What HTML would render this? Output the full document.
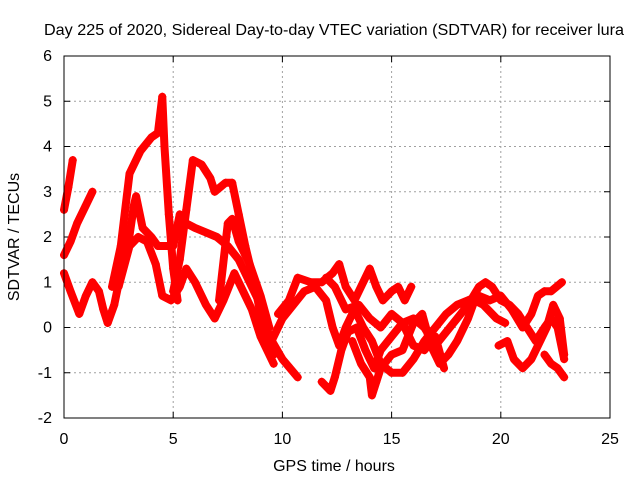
<!DOCTYPE html>
<html><head><meta charset="utf-8"><style>
html,body{margin:0;padding:0;background:#fff;}
svg text{font-family:"Liberation Sans",sans-serif;font-size:16px;fill:#000;}
</style></head><body>
<svg id="chart" width="640" height="480" xmlns="http://www.w3.org/2000/svg">
<text x="334" y="35" text-anchor="middle" textLength="580" lengthAdjust="spacingAndGlyphs">Day 225 of 2020, Sidereal Day-to-day VTEC variation (SDTVAR) for receiver lura</text>
<text x="334" y="471" text-anchor="middle">GPS time / hours</text>
<text transform="translate(19,237) rotate(-90)" text-anchor="middle">SDTVAR / TECUs</text>
<g id="grid"></g>
<g id="ticks"></g>
<g id="marks"></g>
<rect x="64" y="56" width="546" height="362" fill="none" stroke="#000" stroke-width="1"/>
</svg>
<script>
const xTicks = [0,5,10,15,20,25];
const yTicks = [-2,-1,0,1,2,3,4,5,6];
const track1 = [[0,2.6],[0.2,3.1],[0.4,3.7]];
const track2 = [[0,1.6],[0.3,1.9],[0.6,2.3],[1.0,2.7],[1.3,3.0]];
const track3 = [[0,1.2],[0.3,0.8],[0.7,0.3],[1.0,0.7],[1.3,1.0],[1.6,0.8],[1.8,0.4],[2.0,0.1],[2.3,0.5],[2.6,1.2],[2.9,1.7],[3.2,2.7],[3.3,2.9],[3.6,2.2],[4.0,2.0],[4.3,1.8],[4.6,1.8],[5.0,1.8],[5.3,2.5],[5.6,2.3],[6.0,2.2],[6.5,2.1],[7.0,2.0],[7.5,1.8],[8.0,1.5],[8.5,1.0],[9.0,0.5],[9.4,-0.2],[10.0,-0.7],[10.7,-1.1]];
const track4 = [[2.2,0.9],[2.6,1.8],[3.0,3.4],[3.5,3.9],[4.0,4.2],[4.3,4.3],[4.5,5.1],[4.6,4.0],[4.8,2.5],[5.0,1.3],[5.2,0.6]];
const track5 = [[5.0,0.8],[5.3,1.5],[5.6,2.6],[5.9,3.7],[6.3,3.6],[6.7,3.3],[6.9,3.0],[7.4,3.2],[7.7,3.2],[8.0,2.5],[8.3,1.8],[8.7,1.0],[9.0,0.3],[9.3,-0.3],[9.6,-0.6]];
const track6 = [[2.5,0.9],[3.0,1.8],[3.4,2.0],[3.8,1.9],[4.2,1.4],[4.5,0.7],[4.9,0.6],[5.3,0.9],[5.6,1.3],[6.0,1.0],[6.5,0.5],[6.9,0.2],[7.3,0.6],[7.8,1.2],[8.2,0.8],[8.6,0.4],[9.0,-0.2],[9.3,-0.5],[9.6,-0.8]];
const track7 = [[7.1,0.6],[7.5,2.3],[7.7,2.4],[8.0,1.9],[8.5,1.4],[9.0,0.7],[9.4,0.0]];
const track8 = [[9.8,0.3],[10.3,0.6],[10.7,1.1],[11.3,1.0],[11.8,1.0],[12.3,1.2],[12.6,1.4],[12.9,0.9],[13.3,0.6],[13.6,0.9],[14.0,1.3],[14.3,0.9],[14.6,0.6],[15.0,0.8],[15.3,0.9],[15.6,0.6],[15.9,0.9]];
const track9 = [[9.5,-0.3],[10.0,0.2],[10.5,0.5],[11.0,0.8],[11.5,0.9],[12.0,0.6],[12.3,0.0],[12.6,-0.4],[12.9,0.0],[13.3,0.4],[13.7,0.0],[14.1,-0.3],[14.5,-0.8],[15.0,-1.0],[15.5,-1.0],[16.0,-0.7],[16.5,-0.3],[17.0,0.0],[17.5,0.3],[18.0,0.5],[18.5,0.6],[19.0,0.7],[19.5,0.6],[20.0,0.7],[20.5,0.4],[21.0,0.0],[21.4,0.3],[21.7,0.7],[22.0,0.8],[22.3,0.8],[22.8,1.0]];
const track10 = [[11.8,-1.2],[12.0,-1.3],[12.2,-1.4],[12.4,-1.1],[12.7,-0.5],[13.0,-0.1],[13.4,0.0],[13.8,-0.5],[14.2,-0.9],[14.5,-0.5],[15.0,-0.2],[15.5,0.1],[16.0,0.2],[16.5,0.0],[17.0,-0.4],[17.5,-0.1],[18.0,0.2],[18.5,0.5],[19.0,0.9],[19.3,1.0],[19.6,0.9],[20.0,0.6],[20.4,0.5],[20.8,0.3],[21.2,0.0],[21.6,-0.3],[22.0,0.0],[22.3,0.2],[22.6,0.0],[22.9,-0.7]];
const track11 = [[13.2,-0.3],[13.6,-0.8],[14.0,-1.1],[14.1,-1.5],[14.3,-1.2],[14.5,-0.9],[15.0,-0.6],[15.5,-0.5],[16.0,0.1],[16.4,0.3],[16.8,-0.4],[17.2,-0.8],[17.6,-0.6],[18.0,-0.3],[18.5,0.2],[18.8,0.6],[19.2,0.5],[19.8,0.2],[20.2,0.1]];
const track12 = [[19.9,-0.4],[20.3,-0.3],[20.6,-0.7],[21.0,-0.9],[21.4,-0.7],[21.8,-0.3],[22.1,0.0],[22.4,0.5],[22.7,0.2],[22.9,-0.6]];
const track13 = [[22.0,-0.6],[22.3,-0.8],[22.6,-0.9],[22.9,-1.1]];
const track14 = [[12.0,1.1],[12.4,0.9],[12.9,0.4],[13.5,0.5],[14.0,0.2],[14.5,0.0],[15.0,0.3],[15.5,0.1],[16.0,-0.4],[16.5,-0.5],[17.0,-0.2],[17.4,-0.9]];
const tracks = [track1,track2,track3,track4,track5,track6,track7,track8,track9,track10,track11,track12,track13,track14];

const NS="http://www.w3.org/2000/svg";
const X0=64,X1=610,Y0=418,Y1=56;
function xs(v){return X0+(v-0)/(25-0)*(X1-X0);}
function ys(v){return Y0-(v-(-2))/(6-(-2))*(Y0-Y1);}
const grid=document.getElementById('grid'),ticks=document.getElementById('ticks'),marks=document.getElementById('marks');
function mk(tag,attrs,parent){const e=document.createElementNS(NS,tag);for(const k in attrs)e.setAttribute(k,attrs[k]);parent.appendChild(e);return e;}
xTicks.forEach(t=>{
  const x=xs(t);
  if(t>0&&t<25){const g=mk('line',{x1:x,x2:x,y1:Y1,y2:Y0,stroke:'#a0a0a0','stroke-dasharray':'2,3'},grid);
  
  }
  const tk=mk('path',{d:`M${x},${Y0}v-6M${x},${Y1}v6`,stroke:'#000'},ticks);
  
  
  const l=mk('text',{x:x,y:444,'text-anchor':'middle'},ticks);l.textContent=t;
  
  
});
yTicks.forEach(t=>{
  const y=ys(t);
  if(t>-2&&t<6){const g=mk('line',{x1:X0,x2:X1,y1:y,y2:y,stroke:'#a0a0a0','stroke-dasharray':'2,3'},grid);
  
  }
  const tk=mk('path',{d:`M${X0},${y}h6M${X1},${y}h-6`,stroke:'#000'},ticks);
  
  
  const l=mk('text',{x:52,y:y+5,'text-anchor':'end'},ticks);l.textContent=t;
  
  
});
tracks.forEach((tr,i)=>{
  const pts=tr.map(p=>xs(p[0])+','+ys(p[1])).join(' ');
  const pl=mk('polyline',{points:pts,fill:'none',stroke:'#ff0000','stroke-width':8,'stroke-linejoin':'round','stroke-linecap':'round'},marks);
  
  
  tr.forEach(p=>{
    const x=xs(p[0]),y=ys(p[1]);
    const m=mk('path',{d:`M${x-4},${y}h8M${x},${y-4}v8`,stroke:'#ff0000','stroke-width':1.5},marks);
    
    
  });
});
</script>
</body></html>
